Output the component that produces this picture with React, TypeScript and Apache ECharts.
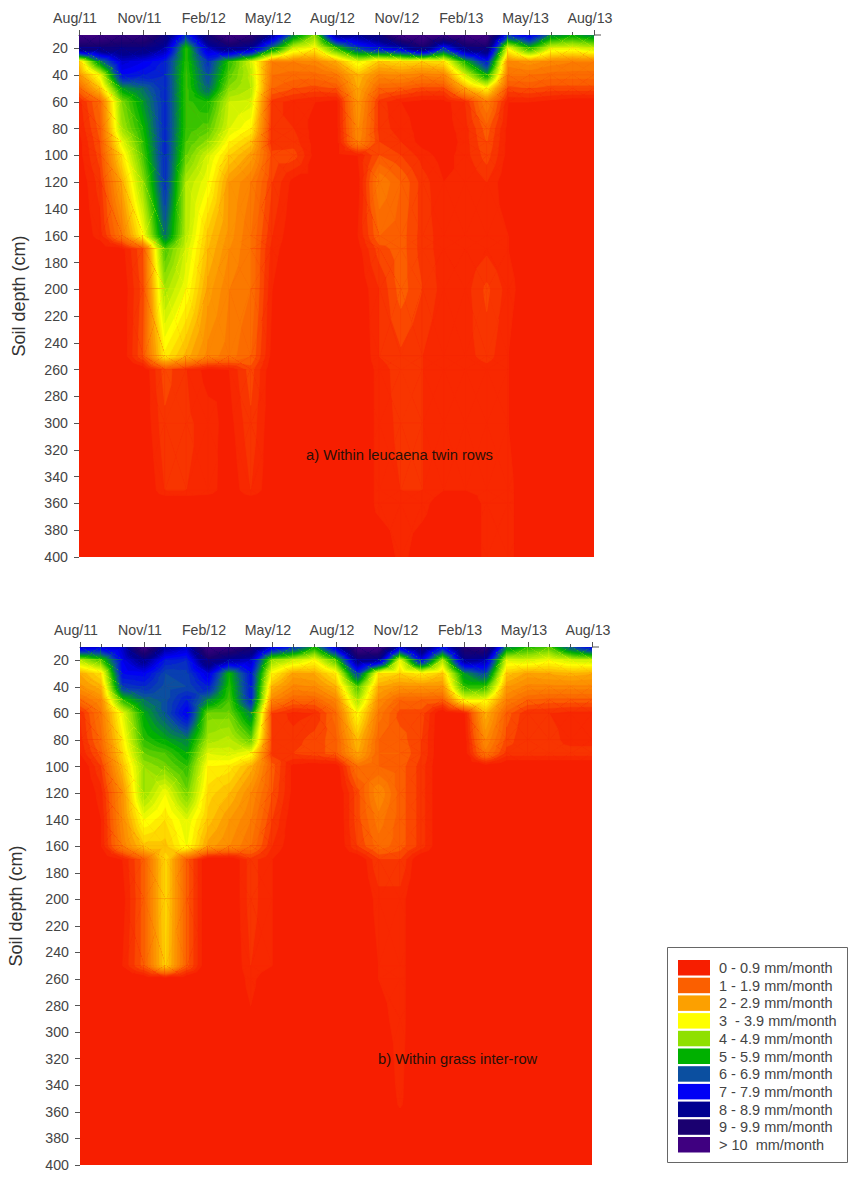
import { useEffect, useRef } from "react";
import * as echarts from "echarts";

const months = [0, 1, 2, 3, 4, 5, 6, 7, 8, 9, 10, 11, 12, 13, 14, 15, 16, 17, 18, 19, 20, 21, 22, 23, 24];
const monthLabels = ["Aug/11", "Nov/11", "Feb/12", "May/12", "Aug/12", "Nov/12", "Feb/13", "May/13", "Aug/13"];
const depthTicks = [20, 40, 60, 80, 100, 120, 140, 160, 180, 200, 220, 240, 260, 280, 300, 320, 340, 360, 380, 400];

const legendLabels = [
  "0 - 0.9 mm/month",
  "1 - 1.9 mm/month",
  "2 - 2.9 mm/month",
  "3  - 3.9 mm/month",
  "4 - 4.9 mm/month",
  "5 - 5.9 mm/month",
  "6 - 6.9 mm/month",
  "7 - 7.9 mm/month",
  "8 - 8.9 mm/month",
  "9 - 9.9 mm/month",
  "> 10  mm/month",
];
const legendColors = ["#f71e00", "#fb5f00", "#fca000", "#ffff00", "#8fe000", "#00b000", "#0b4fa0", "#0000f5", "#000090", "#1a0070", "#3f0080"];

// a) within leucaena twin rows, one row of values per depth
const depthsA = [10, 20, 30, 40, 50, 60, 80, 90, 100, 120, 160, 170, 200, 250, 260, 300, 350, 360, 400];
const valuesA = [
  [10.5, 10.5, 10.2, 10.2, 9.2, 7, 9.4, 10.6, 10.2, 8.5, 6, 4.6, 8.6, 8.6, 9.2, 10.6, 10.7, 10.4, 10.6, 10.7, 7, 7.8, 6, 5.6, 6],
  [9.2, 9.2, 9, 9, 8.3, 5.2, 8, 9, 8.4, 6, 3.9, 3.4, 5.2, 6.8, 7.5, 8, 9.4, 7, 9, 9.3, 3.6, 5.3, 3.8, 3.7, 4],
  [2.9, 6, 7.9, 7.6, 7.1, 5.2, 6.9, 5.2, 3.9, 2, 2, 2.1, 2.6, 3.7, 2.9, 3.1, 3, 3.2, 5.4, 7.2, 2.1, 2.3, 2.1, 2, 2],
  [2.3, 3.7, 7.4, 7.2, 7, 5.1, 6.6, 4.9, 4.1, 1.8, 1.7, 1.7, 1.9, 2.8, 2.1, 2.2, 2, 2.1, 3.9, 5.6, 1.8, 1.8, 1.7, 1.7, 1.7],
  [1.6, 2.9, 5.7, 6.2, 7, 5.1, 6.3, 4.5, 4.2, 1.6, 1.4, 1.3, 1.4, 2.6, 1.6, 1.5, 1.3, 1.3, 2.6, 3.4, 1.3, 1.4, 1.3, 1.3, 1.3],
  [0.9, 1.7, 4.6, 5.8, 7, 5.1, 5.4, 4, 3.9, 1.1, 0.9, 0.8, 0.7, 2.4, 1.1, 0.8, 0.7, 0.7, 1, 2, 0.8, 0.8, 0.7, 0.6, 0.6],
  [0.8, 1.5, 4.3, 5.4, 7, 5.1, 4.9, 3.8, 3.4, 1, 1, 0.7, 0.7, 2.2, 1.1, 0.9, 0.7, 0.7, 0.9, 1.5, 0.7, 0.6, 0.6, 0.6, 0.6],
  [0.7, 1.4, 3.7, 5.2, 7, 5, 4.5, 3.4, 2.9, 1, 1.1, 0.7, 0.7, 2.1, 1.2, 1, 0.7, 0.6, 0.9, 1.4, 0.7, 0.6, 0.6, 0.6, 0.6],
  [0.7, 1.3, 3.2, 5, 7, 4.8, 3.9, 3, 2.5, 1.3, 1.3, 0.7, 0.7, 0.8, 1.4, 1.2, 0.9, 0.7, 0.9, 1.3, 0.7, 0.6, 0.6, 0.6, 0.6],
  [0.6, 1.1, 2.6, 4.5, 6.9, 4.2, 3.6, 2.4, 2, 1.2, 0.7, 0.7, 0.6, 0.7, 2, 1.6, 1.1, 0.8, 0.8, 1, 0.6, 0.6, 0.6, 0.6, 0.6],
  [0.6, 0.9, 1.9, 3.5, 6.2, 4.1, 2.9, 2.3, 1.8, 1, 0.6, 0.6, 0.6, 0.8, 1.6, 1.5, 1.1, 0.9, 0.9, 0.95, 0.8, 0.6, 0.6, 0.6, 0.6],
  [0.5, 0.6, 0.7, 1.4, 5, 3.9, 2.8, 2.2, 1.8, 0.9, 0.6, 0.5, 0.5, 0.7, 1.3, 1.5, 1.1, 0.9, 0.9, 0.95, 0.8, 0.6, 0.5, 0.5, 0.5],
  [0.5, 0.5, 0.6, 1.3, 4.3, 3.6, 2.5, 2, 1.8, 0.8, 0.5, 0.5, 0.5, 0.6, 1, 1.5, 1.2, 0.9, 0.9, 1.25, 0.9, 0.6, 0.5, 0.5, 0.5],
  [0.5, 0.5, 0.6, 1.4, 3.3, 2.7, 2.1, 1.9, 1.6, 0.7, 0.5, 0.5, 0.5, 0.5, 1, 1.15, 1, 0.8, 0.9, 1.1, 0.8, 0.5, 0.5, 0.5, 0.5],
  [0.5, 0.5, 0.5, 0.6, 1.3, 1, 0.7, 0.8, 1.3, 0.6, 0.5, 0.5, 0.5, 0.5, 0.9, 1.1, 1, 0.8, 0.8, 0.9, 0.8, 0.5, 0.5, 0.5, 0.5],
  [0.5, 0.5, 0.5, 0.6, 1.15, 1.05, 0.9, 0.7, 1.15, 0.6, 0.5, 0.5, 0.5, 0.5, 0.9, 1.05, 1, 0.8, 0.8, 0.85, 0.8, 0.5, 0.5, 0.5, 0.5],
  [0.5, 0.5, 0.5, 0.5, 1, 1, 0.95, 0.6, 1, 0.6, 0.5, 0.5, 0.5, 0.5, 0.9, 1, 1, 0.8, 0.8, 0.9, 0.9, 0.5, 0.5, 0.5, 0.5],
  [0.5, 0.5, 0.5, 0.5, 0.5, 0.5, 0.5, 0.5, 0.5, 0.5, 0.5, 0.5, 0.5, 0.5, 0.9, 0.9, 0.9, 0.6, 0.5, 0.9, 0.9, 0.5, 0.5, 0.5, 0.5],
  [0.5, 0.5, 0.5, 0.5, 0.5, 0.5, 0.5, 0.5, 0.5, 0.5, 0.5, 0.5, 0.5, 0.5, 0.5, 0.9, 0.6, 0.5, 0.5, 0.9, 0.9, 0.5, 0.5, 0.5, 0.5],
];

// b) within grass inter-row
const depthsB = [10, 20, 30, 40, 50, 60, 80, 90, 100, 120, 140, 160, 170, 200, 250, 260, 290, 350, 400];
const valuesB = [
  [8, 7.8, 8, 10.5, 8.5, 8, 10.5, 10.3, 9.5, 7.8, 7, 5.5, 8, 10.6, 10.7, 8, 9.5, 7.4, 9.8, 10.2, 6, 5.3, 5, 6.5, 7.5],
  [4.2, 5, 7.6, 8.7, 7.2, 7, 9.3, 8.4, 8, 4.5, 4, 3.5, 5, 8.9, 8.5, 3.7, 7.5, 4.2, 8.6, 8.3, 3.8, 3.9, 3.6, 3.9, 4],
  [2.6, 3.2, 7.4, 7.5, 6.6, 6.7, 7.8, 5.4, 7.3, 3.4, 2.5, 2.6, 3.3, 6.8, 3.2, 3, 3.3, 2.9, 5.8, 6.7, 2.9, 2.5, 2.6, 2.7, 2.6],
  [2.3, 2.7, 6.8, 7, 6.5, 6.6, 7.2, 5.2, 7.2, 2.7, 2.1, 2.2, 2.7, 5, 2.6, 2.3, 2.3, 2.3, 5.2, 5.2, 2.4, 2.1, 2.1, 2.1, 2.1],
  [1.7, 2.2, 5.2, 6.2, 6.5, 7.2, 6, 5, 7.1, 2.1, 1.6, 1.6, 2.1, 4.3, 2.2, 1.6, 1.6, 1.5, 3.6, 3.6, 2, 1.6, 1.5, 1.5, 1.5],
  [1, 1.9, 3.7, 5.6, 6.5, 7.6, 4.7, 4.7, 6, 1.2, 0.9, 1, 1.7, 3.5, 1.9, 1.3, 1.3, 0.5, 0.7, 2.7, 1.5, 1, 1, 0.9, 0.9],
  [0.9, 1.7, 3.3, 5.2, 5.6, 6, 4.3, 4.1, 4.8, 1.2, 1.1, 1.3, 1.5, 2.8, 1.6, 1.5, 1.2, 0.5, 0.6, 2.2, 1.3, 1, 1.1, 0.9, 0.9],
  [0.8, 1.5, 3.1, 4.8, 5, 5.6, 3.8, 3.9, 3.6, 1.1, 1.2, 1.3, 1.5, 2.6, 1.6, 1.6, 1.2, 0.5, 0.6, 1.9, 1.1, 1.1, 1.1, 1.1, 1.1],
  [0.5, 1.2, 2.8, 4.4, 4.7, 5.2, 3.4, 3.3, 2.7, 1.5, 0.7, 0.6, 0.6, 1.8, 1.6, 1.5, 1.1, 0.5, 0.5, 0.6, 0.5, 0.5, 0.5, 0.5, 0.5],
  [0.5, 0.9, 2.3, 4.4, 3.6, 4.7, 3.1, 2.8, 2.2, 1.4, 0.7, 0.5, 0.5, 1.3, 2.2, 1.5, 1.1, 0.5, 0.5, 0.5, 0.5, 0.5, 0.5, 0.5, 0.5],
  [0.5, 0.8, 2.2, 3.6, 3.2, 3.8, 2.9, 2.4, 2, 1.2, 0.6, 0.5, 0.5, 1.3, 1.9, 1.5, 1.1, 0.5, 0.5, 0.5, 0.5, 0.5, 0.5, 0.5, 0.5],
  [0.5, 0.8, 2, 2.9, 2.9, 3.6, 2.5, 2.2, 1.8, 1, 0.6, 0.5, 0.5, 1.2, 1.7, 1.5, 1.1, 0.5, 0.5, 0.5, 0.5, 0.5, 0.5, 0.5, 0.5],
  [0.5, 0.5, 0.8, 1.5, 3.1, 1.5, 0.5, 0.5, 1.1, 0.8, 0.5, 0.5, 0.5, 0.5, 1.2, 1.2, 0.5, 0.5, 0.5, 0.5, 0.5, 0.5, 0.5, 0.5, 0.5],
  [0.5, 0.5, 0.7, 1.5, 3.1, 1.5, 0.5, 0.5, 1.1, 0.8, 0.5, 0.5, 0.5, 0.5, 0.9, 0.9, 0.5, 0.5, 0.5, 0.5, 0.5, 0.5, 0.5, 0.5, 0.5],
  [0.5, 0.5, 0.8, 1.5, 3, 1.5, 0.5, 0.5, 1, 0.8, 0.5, 0.5, 0.5, 0.5, 0.8, 0.9, 0.5, 0.5, 0.5, 0.5, 0.5, 0.5, 0.5, 0.5, 0.5],
  [0.5, 0.5, 0.5, 0.5, 0.5, 0.5, 0.5, 0.5, 0.9, 0.5, 0.5, 0.5, 0.5, 0.5, 0.8, 0.9, 0.5, 0.5, 0.5, 0.5, 0.5, 0.5, 0.5, 0.5, 0.5],
  [0.5, 0.5, 0.5, 0.5, 0.5, 0.5, 0.5, 0.5, 0.75, 0.5, 0.5, 0.5, 0.5, 0.5, 0.7, 0.9, 0.5, 0.5, 0.5, 0.5, 0.5, 0.5, 0.5, 0.5, 0.5],
  [0.5, 0.5, 0.5, 0.5, 0.5, 0.5, 0.5, 0.5, 0.5, 0.5, 0.5, 0.5, 0.5, 0.5, 0.5, 0.85, 0.5, 0.5, 0.5, 0.5, 0.5, 0.5, 0.5, 0.5, 0.5],
  [0.5, 0.5, 0.5, 0.5, 0.5, 0.5, 0.5, 0.5, 0.5, 0.5, 0.5, 0.5, 0.5, 0.5, 0.5, 0.5, 0.5, 0.5, 0.5, 0.5, 0.5, 0.5, 0.5, 0.5, 0.5],
];

const textColor = "#444";
const fontFamily = "Liberation Sans, Arial, sans-serif";
const bandStep = 0.2;
const firstBand = 0.8; // everything under this stays plain red, the grid background shows through

type Vertex = [number, number, number]; // month, depth, value

// colour of a band: legend colours sit at the middle of their class
function bandColor(v: number): string {
  const p = Math.min(Math.max(v - 0.5, 0), legendColors.length - 1);
  const i = Math.min(Math.floor(p), legendColors.length - 2);
  // the reds only turn orange slowly
  const f = i === 0 ? (p - i) * (p - i) : p - i;
  const a = parseInt(legendColors[i].slice(1), 16);
  const b = parseInt(legendColors[i + 1].slice(1), 16);
  const mix = (shift: number) =>
    Math.round(((a >> shift) & 255) * (1 - f) + ((b >> shift) & 255) * f);
  return `rgb(${mix(16)},${mix(8)},${mix(0)})`;
}

// the part of a triangle where value >= level
function clipTriangle(tri: Vertex[], level: number): Vertex[] {
  const out: Vertex[] = [];
  tri.forEach((p, i) => {
    const q = tri[(i + 1) % tri.length];
    if (p[2] >= level) out.push(p);
    if (p[2] >= level !== q[2] >= level) {
      const f = (level - p[2]) / (q[2] - p[2]);
      out.push([p[0] + (q[0] - p[0]) * f, p[1] + (q[1] - p[1]) * f, level]);
    }
  });
  return out;
}

function contourSeries(gridIndex: number, depths: number[], values: number[][]) {
  const cells: number[][] = [];
  depths.slice(1).forEach((_, r) => {
    months.slice(1).forEach((_, c) => cells.push([c, r]));
  });

  return {
    type: "custom",
    xAxisIndex: gridIndex,
    yAxisIndex: gridIndex,
    silent: true,
    clip: true,
    data: cells,
    renderItem: (_params: any, api: any) => {
      const c = api.value(0);
      const r = api.value(1);
      const corner = (cc: number, rr: number): Vertex => [months[cc], depths[rr], values[rr][cc]];
      const a = corner(c, r);
      const b = corner(c + 1, r);
      const d = corner(c + 1, r + 1);
      const e = corner(c, r + 1);
      const mid: Vertex = [(a[0] + b[0]) / 2, (a[1] + e[1]) / 2, (a[2] + b[2] + d[2] + e[2]) / 4];
      const children: any[] = [];
      [[a, b], [b, d], [d, e], [e, a]].forEach(([p, q]) => {
        const tri = [p, q, mid];
        const low = Math.min(p[2], q[2], mid[2]);
        const high = Math.max(p[2], q[2], mid[2]);
        const start = Math.max(Math.floor((low - firstBand) / bandStep), 0);
        for (let k = start; firstBand + k * bandStep <= high; k++) {
          const level = firstBand + k * bandStep;
          const poly = level <= low ? tri : clipTriangle(tri, level);
          if (poly.length < 3) continue;
          const color = bandColor(level + bandStep / 2);
          children.push({
            type: "polygon",
            shape: { points: poly.map((v) => api.coord([v[0], v[1]])) },
            style: { fill: color, stroke: color, lineWidth: 0.7 },
          });
        }
      });
      return { type: "group", children };
    },
  };
}

function xAxisFor(gridIndex: number) {
  return {
    type: "value",
    gridIndex,
    position: "top",
    min: 0,
    max: 24,
    interval: 3,
    axisLine: { show: true, lineStyle: { color: "#555", width: 1 } },
    axisTick: { show: true, length: 5, lineStyle: { color: "#555" } },
    minorTick: { show: true, splitNumber: 3, length: 3, lineStyle: { color: "#555" } },
    splitLine: { show: false },
    axisLabel: {
      color: textColor,
      fontFamily,
      fontSize: 14.2,
      margin: 10,
      padding: [0, 8, 0, 0],
      formatter: (v: number) => monthLabels[v / 3],
    },
  };
}

function yAxisFor(gridIndex: number, nameGap: number) {
  return {
    type: "value",
    gridIndex,
    inverse: true,
    min: 10,
    max: 400,
    interval: 10,
    name: "Soil depth (cm)",
    nameLocation: "middle",
    nameGap,
    nameTextStyle: { color: "#333", fontFamily, fontSize: 18 },
    axisLine: { show: false },
    axisTick: { show: true, length: 5, customValues: depthTicks, lineStyle: { color: "#555" } },
    splitLine: { show: false },
    axisLabel: { color: textColor, fontFamily, fontSize: 14.2, margin: 11, customValues: depthTicks },
  };
}

function legendGraphics() {
  const items: any[] = [
    {
      type: "rect",
      shape: { x: 667.5, y: 947.5, width: 180, height: 215 },
      style: { fill: "#fff", stroke: "#666", lineWidth: 1 },
    },
  ];
  legendLabels.forEach((label, i) => {
    items.push({
      type: "rect",
      shape: { x: 678, y: 960 + i * 17.7, width: 32, height: 15.5 },
      style: { fill: legendColors[i] },
    });
    items.push({
      type: "text",
      x: 719,
      y: 968 + i * 17.7,
      style: { text: label, fill: textColor, font: `14.5px ${fontFamily}`, textVerticalAlign: "middle" },
    });
  });
  return items;
}

function App() {
  const chartRef = useRef<HTMLDivElement>(null);

  useEffect(() => {
    const myChart = echarts.init(chartRef.current, null, { renderer: "svg" });
    myChart.setOption({
      animation: false,
      backgroundColor: "#fff",
      grid: [
        { show: true, outerBoundsMode: "none", left: 79, top: 35, width: 515, height: 522, backgroundColor: legendColors[0], borderWidth: 0 },
        { show: true, outerBoundsMode: "none", left: 80, top: 647, width: 512, height: 518, backgroundColor: legendColors[0], borderWidth: 0 },
      ],
      xAxis: [xAxisFor(0), xAxisFor(1)],
      yAxis: [yAxisFor(0, 51), yAxisFor(1, 55)],
      series: [contourSeries(0, depthsA, valuesA), contourSeries(1, depthsB, valuesB)],
      graphic: [
        { type: "line", shape: { x1: 594, y1: 35, x2: 601, y2: 35 }, style: { stroke: "#555", lineWidth: 1 } },
        { type: "line", shape: { x1: 592, y1: 647, x2: 599, y2: 647 }, style: { stroke: "#555", lineWidth: 1 } },
        {
          type: "text",
          x: 306,
          y: 455,
          z: 10,
          style: { text: "a) Within leucaena twin rows", fill: "#2a1008", font: `14.7px ${fontFamily}`, textVerticalAlign: "middle" },
        },
        {
          type: "text",
          x: 378,
          y: 1059,
          z: 10,
          style: { text: "b) Within grass inter-row", fill: "#2a1008", font: `14.7px ${fontFamily}`, textVerticalAlign: "middle" },
        },
        ...legendGraphics(),
      ],
    });

    return () => {
      myChart.dispose();
    };
  }, []);

  return <div ref={chartRef} style={{ position: "absolute", left: 0, top: 0, width: 849, height: 1178 }}></div>;
}

export default App;
